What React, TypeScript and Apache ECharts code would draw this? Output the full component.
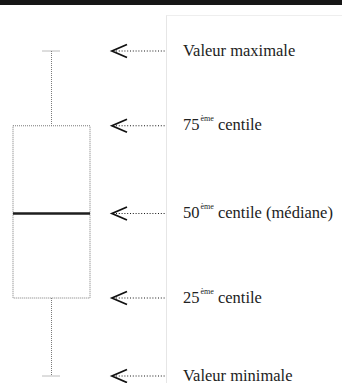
import React, { useEffect, useRef } from "react";
import * as echarts from "echarts";

// box statistics: [min, q1, median, q3, max]
const boxStats = [0, 24, 50, 77, 100];
const categories = ["Distribution"];

// annotation rows, top to bottom
const annotationValues = [100, 77, 50, 24, 0];
const labelMain = ["Valeur maximale", "75", "50", "25", "Valeur minimale"];
const labelSup = ["", "ème", "ème", "ème", ""];
const labelTail = ["", " centile", " centile (médiane)", " centile", ""];

export default function App() {
  const ref = useRef<HTMLDivElement>(null);
  useEffect(() => {
    document.body.style.margin = "0";
    const chart = echarts.init(ref.current!, null, { renderer: "svg" });
    const font = "Liberation Serif";
    const option: any = {
      animation: false,
      backgroundColor: "#ffffff",
      textStyle: { fontFamily: font },
      grid: { left: 0, width: 103, top: 51, bottom: 7 },
      xAxis: { type: "category", data: categories, show: false },
      yAxis: { type: "value", min: 0, max: 100, show: false },
      graphic: [
        { type: "rect", shape: { x: 0, y: 0, width: 342, height: 5 }, style: { fill: "#161616" } },
        { type: "line", shape: { x1: 166.5, y1: 15, x2: 166.5, y2: 383 }, style: { stroke: "#e6e6e6", lineWidth: 1 } },
        { type: "line", shape: { x1: 166.5, y1: 15.5, x2: 342, y2: 15.5 }, style: { stroke: "#eeeeee", lineWidth: 1 } },
      ],
      series: [
        {
          type: "custom",
          clip: false,
          data: [[0, ...boxStats]],
          renderItem: (params: any, api: any) => {
            const x = api.coord([0, 0])[0];
            const yMin = api.coord([0, api.value(1)])[1];
            const yQ1 = api.coord([0, api.value(2)])[1];
            const yMed = api.coord([0, api.value(3)])[1];
            const yQ3 = api.coord([0, api.value(4)])[1];
            const yMax = api.coord([0, api.value(5)])[1];
            const half = 38.5;
            const cap = 9;
            const dotted = { stroke: "#7a7a7a", lineWidth: 1, lineDash: [1, 1], fill: null };
            return {
              type: "group",
              children: [
                { type: "rect", shape: { x: x - half, y: yQ3, width: half * 2, height: yQ1 - yQ3 }, style: { ...dotted, fill: "none" } },
                { type: "line", shape: { x1: x, y1: yMax, x2: x, y2: yQ3 }, style: dotted },
                { type: "line", shape: { x1: x, y1: yQ1, x2: x, y2: yMin }, style: dotted },
                { type: "line", shape: { x1: x - cap, y1: yMax, x2: x + cap, y2: yMax }, style: dotted },
                { type: "line", shape: { x1: x - cap, y1: yMin, x2: x + cap, y2: yMin }, style: dotted },
                { type: "line", shape: { x1: x - half, y1: yMed, x2: x + half, y2: yMed }, style: { stroke: "#1e1e1e", lineWidth: 2.5 } },
              ],
            };
          },
        },
        {
          type: "custom",
          clip: false,
          data: annotationValues.map((v, i) => [0, v, i]),
          renderItem: (params: any, api: any) => {
            const y = api.coord([0, api.value(1)])[1];
            const i = api.value(2);
            const sup = labelSup[i];
            const text = sup
              ? `{n|${labelMain[i]}}{s|${sup}}{n|${labelTail[i]}}`
              : `{n|${labelMain[i]}}`;
            return {
              type: "group",
              children: [
                { type: "polyline", shape: { points: [[127, y - 6.5], [112, y], [127, y + 6.5]] }, style: { stroke: "#111", lineWidth: 1.8, fill: null } },
                { type: "line", shape: { x1: 116, y1: y, x2: 166, y2: y }, style: { stroke: "#1a1a1a", lineWidth: 1.2, lineDash: [1, 1.8] } },
                {
                  type: "text",
                  x: 183,
                  y: y - 1,
                  style: {
                    text,
                    verticalAlign: "middle",
                    align: "left",
                    fill: "#222",
                    fontFamily: font,
                    fontSize: 16.5,
                    rich: {
                      n: { fontFamily: font, fontSize: 16.5, fill: "#222", lineHeight: 20, verticalAlign: "middle" },
                      s: { fontFamily: font, fontSize: 8, fill: "#222", lineHeight: 20, verticalAlign: "top", padding: [0, 0, 0, 1] },
                    },
                  },
                },
              ],
            };
          },
        },
      ],
    };
    chart.setOption(option);
    return () => chart.dispose();
  }, []);
  return <div ref={ref} style={{ width: 342, height: 383 }} />;
}
